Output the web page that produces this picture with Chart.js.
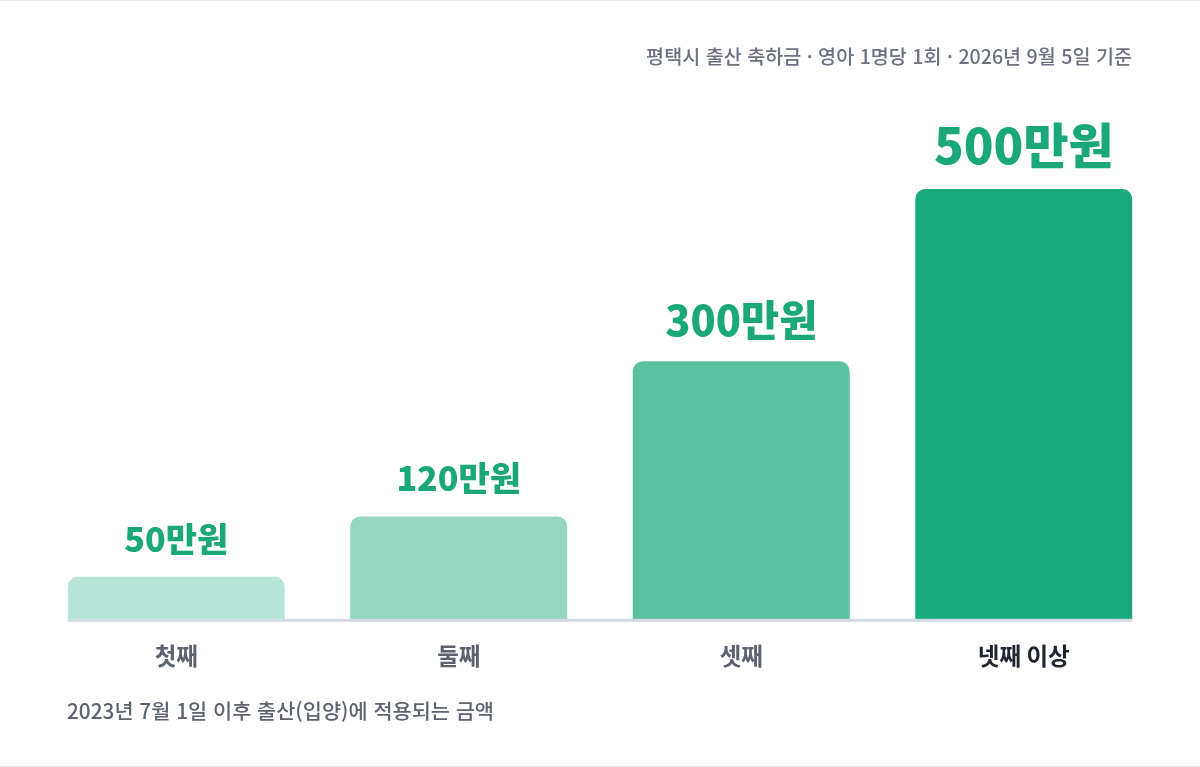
<!DOCTYPE html>
<html lang="ko">
<head>
<meta charset="utf-8">
<script src="https://cdn.jsdelivr.net/npm/chart.js@4.4.1/dist/chart.umd.min.js"></script>
<style>
  html, body { margin: 0; padding: 0; background: #ffffff; }
  #wrap { position: relative; width: 1200px; height: 767px; overflow: hidden; background: #fff;
          border-top: 1px solid #e6e8eb; border-bottom: 1px solid #e6e8eb; box-sizing: border-box; }
  #chartBox { position: absolute; left: 0; top: 0; width: 1200px; height: 767px; }
  .sub { position: absolute; right: 68px; top: 43px; font-family: "Noto Sans CJK KR", "Noto Sans", sans-serif;
         font-weight: 500; font-size: 19.6px; color: #6b7180; white-space: nowrap; line-height: 1.2; }
  .foot { position: absolute; left: 67px; top: 697px; font-family: "Noto Sans CJK KR", "Noto Sans", sans-serif;
          font-weight: 500; font-size: 20.8px; color: #5d6371; white-space: nowrap; line-height: 1.2; }
</style>
</head>
<body>
<div id="wrap">
  <div id="chartBox"><canvas id="c"></canvas></div>
  <div class="sub">평택시 출산 축하금 · 영아 1명당 1회 · 2026년 9월 5일 기준</div>
  <div class="foot">2023년 7월 1일 이후 출산(입양)에 적용되는 금액</div>
</div>
<script>
// ---- data ----
const categories = ["첫째", "둘째", "셋째", "넷째 이상"];
const amounts = [50, 120, 300, 500];          // 만원
const valueLabels = ["50만원", "120만원", "300만원", "500만원"];

// ---- styles ----
const barColors = ["#b8e5d7", "#93d7c1", "#5bc2a1", "#18aa7c"];
const labelFontSizes = [34, 34, 41.5, 49];
const tickColors = ["#5c6270", "#5c6270", "#5c6270", "#1f2430"];
const FONT = '"Noto Sans CJK KR", "Noto Sans", sans-serif';

const valueLabelPlugin = {
  id: 'valueLabels',
  afterDatasetsDraw(chart) {
    const ctx = chart.ctx;
    const meta = chart.getDatasetMeta(0);
    const first = meta.data[0], last = meta.data[meta.data.length - 1];
    const y0 = chart.scales.y.getPixelForValue(0);
    ctx.save();
    ctx.fillStyle = '#d3dae3';
    ctx.fillRect(first.x - first.width / 2, y0 - 1, (last.x + last.width / 2) - (first.x - first.width / 2), 3);
    ctx.fillStyle = '#1aa77a';
    ctx.textAlign = 'center';
    ctx.textBaseline = 'alphabetic';
    meta.data.forEach((bar, i) => {
      ctx.font = `800 ${labelFontSizes[i]}px ${FONT}`;
      ctx.fillText(valueLabels[i], bar.x, bar.y - 25);
    });
    ctx.restore();
  }
};

new Chart(document.getElementById('c'), {
  type: 'bar',
  data: {
    labels: categories,
    datasets: [{
      data: amounts,
      backgroundColor: barColors,
      borderRadius: { topLeft: 10, topRight: 10, bottomLeft: 0, bottomRight: 0 },
      borderSkipped: 'start',
      categoryPercentage: 1,
      barPercentage: 0.768
    }]
  },
  options: {
    responsive: true,
    maintainAspectRatio: false,
    animation: false,
    devicePixelRatio: 1,
    layout: { padding: { left: 35, right: 35, top: 188, bottom: 76 } },
    plugins: { legend: { display: false }, tooltip: { enabled: false } },
    scales: {
      x: {
        grid: { display: false, drawTicks: false },
        border: { display: false },
        ticks: {
          padding: 22,
          color: (c) => tickColors[c.index],
          font: { family: FONT, size: 23.5, weight: '700' }
        }
      },
      y: { display: false, min: 0, max: 500 }
    }
  },
  plugins: [valueLabelPlugin]
});
</script>
</body>
</html>
